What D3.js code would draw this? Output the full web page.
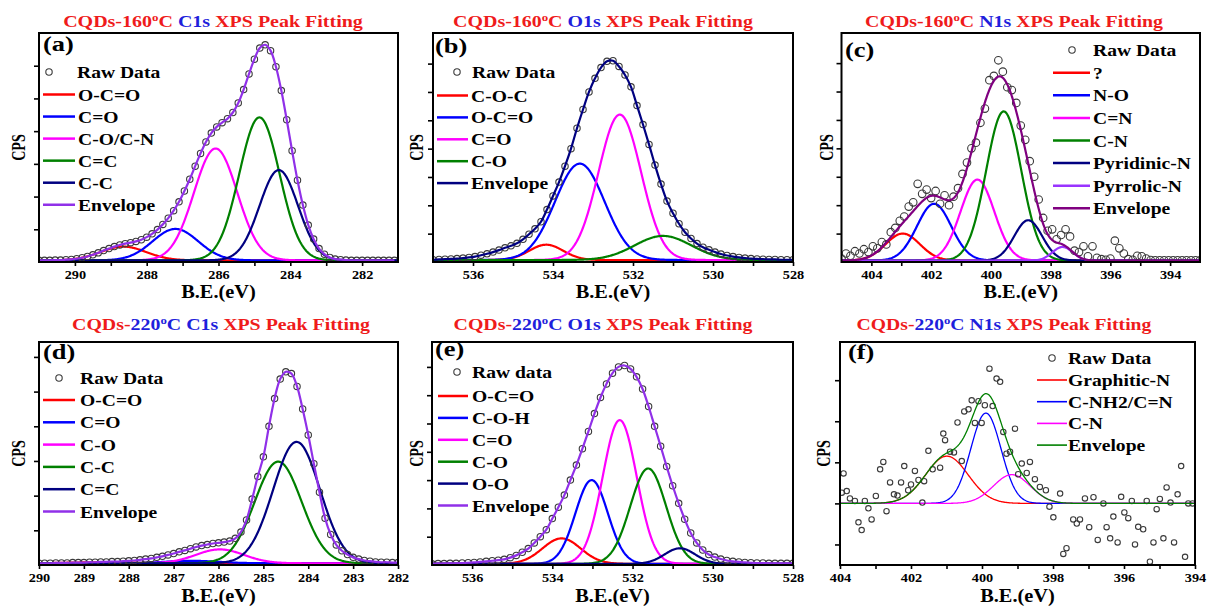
<!DOCTYPE html>
<html>
<head>
<meta charset="utf-8">
<script src="https://cdn.jsdelivr.net/npm/d3@7"></script>
<style>
  body { margin: 0; background: #fff; }
  text { font-family: "Liberation Serif", "Times New Roman", "DejaVu Serif", serif; font-weight: bold; white-space: pre; }
</style>
</head>
<body>
<svg id="fig" width="1208" height="610"></svg>
<script>
// ---------- colours ----------
const RED = "#ff0000", BLUE = "#0000ff", MAG = "#ff00ff", GRN = "#008000",
      NAVY = "#000080", PURP = "#9030e8", PLUM = "#800080", VIOL = "#9933ff";
const TRED = "#ef1b1b", TBLUE = "#1f1fdc";

// ---------- (a) CQDs-160 C1s ----------
const aNames   = ["O-C=O", "C=O", "C-O/C-N", "C=C", "C-C"];
const aColors  = [RED, BLUE, MAG, GRN, NAVY];
const aCenters = [288.65, 287.2, 286.08, 284.86, 284.32];
const aHeights = [0.42, 0.96, 3.42, 4.37, 2.76];
const aFwhm    = [1.5, 1.5, 1.42, 1.32, 1.26];
const aBase = 0.05;
const aRawStart = 291.0, aRawStep = -0.15;
const aRaw = [.05,.05,.05,.06,.06,.07,.08,.10,.13,.17,.22,.28,.35,.41,.47,.52,.56,.59,.63,.68,
  .76,.86,.99,1.15,1.34,1.57,1.84,2.17,2.53,2.93,3.32,3.67,3.94,4.13,4.26,4.38,4.57,4.86,5.27,5.75,
  6.20,6.54,6.64,6.46,5.97,5.24,4.35,3.40,2.50,1.74,1.13,.70,.41,.24,.14,.09,.07,.06,.05,.05,
  .05,.05,.05,.05,.05,.05,.05];

// ---------- (b) CQDs-160 O1s ----------
const bNames   = ["C-O-C", "O-C=O", "C=O", "C-O"];
const bColors  = [RED, BLUE, MAG, GRN];
const bCenters = [534.17, 533.33, 532.33, 531.25];
const bHeights = [0.54, 3.4, 5.13, 0.85];
const bFwhm    = [1.0, 1.46, 1.25, 1.67];
const bBase = 0.07;
const bRawStart = 537.0, bRawStep = -0.15;
const bRaw = [.08,.09,.10,.11,.12,.14,.16,.19,.24,.29,.35,.42,.50,.57,.66,.80,.98,1.17,1.42,1.85,
  2.33,2.82,3.38,4.00,4.72,5.38,6.00,6.48,6.86,7.08,7.10,6.90,6.60,6.18,5.52,4.85,4.15,3.42,2.75,2.15,
  1.72,1.35,1.05,.83,.65,.52,.43,.35,.28,.23,.19,.16,.14,.12,.11,.10,.09,.09,.08,.08,.08];

// ---------- (c) CQDs-160 N1s ----------
const cNames   = ["?", "N-O", "C=N", "C-N", "Pyridinic-N", "Pyrrolic-N"];
const cColors  = [RED, BLUE, MAG, GRN, NAVY, VIOL];
const cCenters = [402.95, 401.9, 400.45, 399.57, 398.75, 397.6];
const cHeights = [0.95, 2.0, 2.85, 5.25, 1.42, 0.48];
const cFwhm    = [1.35, 1.35, 1.33, 1.38, 1.1, 0.8];
const cBase = 0.05;
const cRawStart = 405.0, cRawStep = -0.15;
const cRaw = [.12,.30,.22,.38,.30,.45,.35,.55,.48,.70,.62,1.05,1.20,1.45,1.60,1.95,2.10,2.75,2.40,2.55,
  2.25,2.50,2.05,2.35,2.00,2.30,2.60,3.10,3.50,4.00,4.20,4.90,5.40,6.40,6.55,7.10,6.70,6.15,6.05,5.60,
  4.80,4.30,3.55,3.00,2.20,1.55,1.10,1.15,.80,.95,1.15,.90,.40,.35,.55,.20,.55,.15,.10,.08,
  .12,.75,.48,.30,.10,.08,.22,.20,.12,.07,.06,.06,.06,.06,.06,.06,.06,.06,.06,.06,.06];

// ---------- (d) CQDs-220 C1s ----------
const dNames   = ["O-C=O", "C=O", "C-O", "C-C", "C=C"];
const dColors  = [RED, BLUE, MAG, GRN, NAVY];
const dCenters = [288.6, 286.6, 285.97, 284.67, 284.26];
const dHeights = [0.03, 0.07, 0.40, 2.93, 3.50];
const dFwhm    = [1.6, 1.4, 1.26, 1.23, 1.23];
const dBase = 0.05;
const dRawStart = 290.0, dRawStep = -0.125;
const dRaw = [.05,.05,.05,.06,.06,.06,.07,.07,.07,.08,.08,.09,.09,.10,.10,.11,.12,.13,.15,.17,
  .19,.22,.25,.29,.33,.38,.42,.47,.52,.56,.59,.62,.64,.66,.69,.77,.95,1.30,1.90,2.55,
  3.12,4.00,4.80,5.36,5.57,5.52,5.15,4.50,3.75,2.92,2.10,1.35,.88,.58,.41,.30,.22,.17,.13,.11,
  .09,.08,.08,.07,.07];

// ---------- (e) CQDs-220 O1s ----------
const eNames   = ["O-C=O", "C-O-H", "C=O", "C-O", "O-O"];
const eColors  = [RED, BLUE, MAG, GRN, NAVY];
const eCenters = [533.77, 533.02, 532.32, 531.61, 530.82];
const eHeights = [0.90, 2.96, 5.08, 3.37, 0.55];
const eFwhm    = [1.12, 0.95, 1.0, 1.05, 0.9];
const eBase = 0.04;
const eRawStart = 537.0, eRawStep = -0.15;
const eRaw = [.04,.05,.05,.06,.06,.07,.08,.09,.11,.13,.15,.17,.20,.26,.34,.45,.58,.78,1.00,1.25,
  1.64,2.04,2.47,3.00,3.53,4.11,4.72,5.35,5.92,6.40,6.78,7.00,7.05,6.93,6.65,6.22,5.60,4.90,4.20,3.48,
  2.80,2.18,1.62,1.13,.78,.53,.37,.28,.21,.16,.13,.11,.09,.08,.07,.07,.06,.06,.06,.06,.06];

// ---------- (f) CQDs-220 N1s ----------
const fNames   = ["Graphitic-N", "C-NH2/C=N", "C-N"];
const fColors  = [RED, BLUE, MAG];
const fCenters = [400.99, 399.89, 399.16];
const fHeights = [1.15, 2.2, 0.7];
const fFwhm    = [1.41, 1.0, 1.22];
const fBase = 0;
const fRawX = [403.95,403.9,403.81,403.72,403.58,403.48,403.39,403.3,403.2,403.11,402.99,402.87,402.78,402.69,
  402.59,402.48,402.38,402.28,402.19,402.08,402.0,401.89,401.79,401.68,401.63,401.51,401.39,401.18,401.09,
  401.04,400.9,400.79,400.69,400.57,400.5,400.38,400.29,400.2,400.1,400.01,399.92,399.79,399.7,399.59,
  399.49,399.4,399.31,399.21,399.07,398.98,398.88,398.74,398.65,398.51,398.37,398.2,398.1,397.99,397.8,
  397.71,397.62,397.43,397.33,397.24,397.1,396.98,396.86,396.74,396.58,396.49,396.39,396.3,396.18,396.08,
  395.99,395.88,395.78,395.69,395.6,395.46,395.36,395.27,395.17,395.08,394.99,394.89,394.8,394.69,394.59,
  394.49,394.39,394.28,394.19,394.07];
const fRawY = [.26,.73,.30,.12,.06,-.46,-.65,.06,-.12,-.39,.18,.83,1.01,-.19,.51,.22,.19,.51,.91,.32,
  .46,.79,.57,.02,.54,1.28,.83,.87,1.70,1.54,1.26,1.24,1.97,1.03,2.24,2.29,2.51,1.96,2.49,1.96,
  2.39,3.28,2.37,3.04,2.96,1.74,1.21,1.26,1.82,.71,.97,.74,1.01,.59,.40,.32,-.08,-.34,.24,-1.23,
  -1.09,-.39,-.49,-.39,.12,-.58,.15,-.89,0,-.58,-.85,-.32,-.95,.16,-.22,-.36,.06,-1.0,-.57,-.63,
  .06,-1.42,-.95,-.14,.11,-.85,.39,.02,-.95,.22,.91,-1.30,0,0];

// ---------- helpers ----------
const svg = d3.select("#fig");
const grid = (start, step, n) => d3.range(n).map(i => +(start + step * i).toFixed(4));
const gaussian = (x, c, h, w) => h * Math.exp(-4 * Math.LN2 * (x - c) * (x - c) / (w * w));

function titleParts(temp, line) {
  if (temp === "160") {
    return [{t: "CQDs-160", c: TRED}, {t: "o", c: TRED, sup: true}, {t: "C ", c: TRED, down: true},
            {t: line + " ", c: TBLUE}, {t: "XPS Peak Fitting", c: TRED}];
  }
  return [{t: "CQDs-", c: TRED}, {t: "220", c: TBLUE}, {t: "o", c: TBLUE, sup: true},
          {t: "C " + line + " ", c: TBLUE, down: true}, {t: "XPS Peak Fitting", c: TRED}];
}

function drawTitle(parts, cx, y, width) {
  const t = svg.append("text").attr("font-size", 17).attr("text-anchor", "middle");
  parts.forEach(p => {
    const ts = t.append("tspan").attr("fill", p.c).text(p.t);
    if (p.sup) ts.attr("font-size", 11).attr("dy", -6);
    if (p.down) ts.attr("dy", 6);
  });
  const w = t.node().getComputedTextLength();
  t.attr("transform", `translate(${cx},${y}) scale(${width / w},1)`);
}

function stretched(parent, x, y, str, size, sx, anchor, rotate) {
  return parent.append("text")
    .attr("transform", `translate(${x},${y})${rotate ? " rotate(" + rotate + ")" : ""} scale(${sx},1)`)
    .attr("text-anchor", anchor || "start")
    .attr("font-size", size)
    .attr("fill", "#000")
    .text(str);
}

const panels = [
  { key: "a", box: {l: 39, r: 398, t: 33, b: 262}, xDom: [291, 281], yDom: [0, 7],
    xTicks: d3.range(282, 291), every: 2, yTicks: d3.range(1, 7),
    title: titleParts("160", "C1s"), tx: 213, ty: 27, tw: 300, letter: "(a)", lp: [43, 51],
    names: aNames, colors: aColors, centers: aCenters, heights: aHeights, fwhm: aFwhm, base: aBase,
    rawX: grid(aRawStart, aRawStep, aRaw.length), rawY: aRaw, r: 3.2, env: PURP, envFromRaw: true, lw: 2.2,
    leg: {label: "Raw Data", circle: [49, 72], rawTx: 77, line: [43, 75], tx: 78, y0: 94.5, dy: 22.05},
    cpsX: 25, beY: 298 },
  { key: "b", box: {l: 433, r: 793, t: 33, b: 262}, xDom: [537, 528], yDom: [0, 8.08],
    xTicks: d3.range(528, 537), every: 2, yTicks: d3.range(1, 8),
    title: titleParts("160", "O1s"), tx: 603, ty: 27, tw: 300, letter: "(b)", lp: [435, 53],
    names: bNames, colors: bColors, centers: bCenters, heights: bHeights, fwhm: bFwhm, base: bBase,
    rawX: grid(bRawStart, bRawStep, bRaw.length), rawY: bRaw, r: 3.2, env: NAVY, envFromRaw: true, lw: 2.2,
    leg: {label: "Raw Data", circle: [457, 72], rawTx: 472, line: [437, 468], tx: 471, y0: 95.5, dy: 21.9},
    cpsX: 423, beY: 298 },
  { key: "c", box: {l: 841.5, r: 1200, t: 33, b: 262}, xDom: [405, 393], yDom: [0, 8.06],
    xTicks: d3.range(394, 405), every: 2, yTicks: d3.range(1, 8),
    title: titleParts("160", "N1s"), tx: 1014, ty: 27, tw: 298, letter: "(c)", lp: [845, 57],
    names: cNames, colors: cColors, centers: cCenters, heights: cHeights, fwhm: cFwhm, base: cBase,
    rawX: grid(cRawStart, cRawStep, cRaw.length), rawY: cRaw, r: 3.8, env: PLUM, envFromRaw: false, lw: 2.2,
    leg: {label: "Raw Data", circle: [1072, 50], rawTx: 1093, line: [1053, 1090], tx: 1093, y0: 72.7, dy: 22.6},
    cpsX: 833, beY: 298 },
  { key: "d", box: {l: 39, r: 398, t: 342, b: 565}, xDom: [290, 282], yDom: [0, 6.43],
    xTicks: d3.range(282, 291), every: 1, yTicks: d3.range(1, 7),
    title: titleParts("220", "C1s"), tx: 221, ty: 330, tw: 298, letter: "(d)", lp: [43, 359],
    names: dNames, colors: dColors, centers: dCenters, heights: dHeights, fwhm: dFwhm, base: dBase,
    rawX: grid(dRawStart, dRawStep, dRaw.length), rawY: dRaw, r: 3.2, env: PURP, envFromRaw: true, lw: 2.2,
    leg: {label: "Raw Data", circle: [59, 378], rawTx: 80, line: [43, 75], tx: 80, y0: 400, dy: 22.3},
    cpsX: 25, beY: 602 },
  { key: "e", box: {l: 432, r: 793, t: 342, b: 565}, xDom: [537, 528], yDom: [0, 7.88],
    xTicks: d3.range(528, 537), every: 2, yTicks: d3.range(1, 8),
    title: titleParts("220", "O1s"), tx: 603, ty: 330, tw: 299, letter: "(e)", lp: [435, 356],
    names: eNames, colors: eColors, centers: eCenters, heights: eHeights, fwhm: eFwhm, base: eBase,
    rawX: grid(eRawStart, eRawStep, eRaw.length), rawY: eRaw, r: 3.2, env: PURP, envFromRaw: true, lw: 2.2,
    leg: {label: "Raw data", circle: [457, 372], rawTx: 472, line: [438, 468], tx: 472, y0: 396, dy: 21.9},
    cpsX: 423, beY: 602 },
  { key: "f", box: {l: 840, r: 1195, t: 342, b: 565}, xDom: [404, 394], yDom: [-1.5, 3.93],
    xTicks: d3.range(394, 405), every: 2, yTicks: [-1, 0, 1, 2, 3],
    title: titleParts("220", "N1s"), tx: 1004, ty: 330, tw: 295, letter: "(f)", lp: [848, 359],
    names: fNames, colors: fColors, centers: fCenters, heights: fHeights, fwhm: fFwhm, base: fBase,
    rawX: fRawX, rawY: fRawY, r: 2.7, env: GRN, envFromRaw: false, lw: 1.3,
    leg: {label: "Raw Data", circle: [1052, 358], rawTx: 1068, line: [1037, 1067], tx: 1068, y0: 380, dy: 21.7},
    cpsX: 830, beY: 602 }
];

panels.forEach(p => {
  const {box} = p;
  const x = d3.scaleLinear().domain(p.xDom).range([box.l, box.r]);
  const y = d3.scaleLinear().domain(p.yDom).range([box.b, box.t]);
  const g = svg.append("g");

  svg.append("clipPath").attr("id", "clip-" + p.key)
    .append("rect").attr("x", box.l).attr("y", box.t)
    .attr("width", box.r - box.l).attr("height", box.b - box.t);

  // fitted components
  const N = 500;
  const xs = d3.range(N + 1).map(i => p.xDom[0] + (p.xDom[1] - p.xDom[0]) * i / N);
  const line = d3.line().x(d => x(d[0])).y(d => y(d[1]));
  const plot = g.append("g").attr("clip-path", `url(#clip-${p.key})`);

  p.names.forEach((nm, i) => {
    const pts = xs.map(v => [v, p.base + gaussian(v, p.centers[i], p.heights[i], p.fwhm[i])]);
    plot.append("path").attr("d", line(pts)).attr("fill", "none")
      .attr("stroke", p.colors[i]).attr("stroke-width", p.lw);
  });

  // raw data points
  const raw = p.rawX.map((v, i) => [v, p.rawY[i]]);
  plot.selectAll("circle.raw").data(raw).join("circle").attr("class", "raw")
    .attr("cx", d => x(d[0])).attr("cy", d => y(d[1])).attr("r", p.r)
    .attr("fill", "none").attr("stroke", "#3a3a3a").attr("stroke-width", 1.1);

  // envelope
  if (p.envFromRaw) {
    plot.append("path").attr("d", d3.line().curve(d3.curveCatmullRom.alpha(0.5))
        .x(d => x(d[0])).y(d => y(d[1]))(raw))
      .attr("fill", "none").attr("stroke", p.env).attr("stroke-width", p.lw);
  } else {
    const envPts = xs.map(v => [v, p.base + d3.sum(p.names, (nm, i) => gaussian(v, p.centers[i], p.heights[i], p.fwhm[i]))]);
    plot.append("path").attr("d", line(envPts)).attr("fill", "none")
      .attr("stroke", p.env).attr("stroke-width", p.lw);
  }

  // axes
  const gx = g.append("g").attr("transform", `translate(0,${box.b})`)
    .call(d3.axisBottom(x).tickValues(p.xTicks).tickSize(4)
      .tickFormat(d => (Math.round(d) % p.every === 0) ? d : ""));
  gx.attr("font-family", null).attr("font-size", null);
  gx.select(".domain").remove();
  gx.selectAll(".tick line").attr("stroke", "#000").attr("stroke-width", 1.6);
  gx.selectAll(".tick text").attr("y", null).attr("dy", null)
    .attr("transform", "translate(0,17) scale(1.1,1)")
    .attr("font-size", 13).attr("fill", "#000");

  const gy = g.append("g").attr("transform", `translate(${box.l},0)`)
    .call(d3.axisLeft(y).tickValues(p.yTicks).tickSize(5).tickFormat(""));
  gy.select(".domain").remove();
  gy.selectAll(".tick line").attr("stroke", "#000").attr("stroke-width", 1.6);

  g.append("rect").attr("x", box.l).attr("y", box.t)
    .attr("width", box.r - box.l).attr("height", box.b - box.t)
    .attr("fill", "none").attr("stroke", "#000").attr("stroke-width", 2);

  // titles and axis labels
  drawTitle(p.title, p.tx, p.ty, p.tw);
  stretched(g, (box.l + box.r) / 2, p.beY, "B.E.(eV)", 18.5, 1.1, "middle");
  stretched(g, p.cpsX, (box.t + box.b) / 2, "CPS", 19, 0.74, "middle", -90);
  stretched(g, p.lp[0], p.lp[1], p.letter, 22, 1.2, "start");

  // legend
  const L = p.leg;
  g.append("circle").attr("cx", L.circle[0]).attr("cy", L.circle[1]).attr("r", 3.2)
    .attr("fill", "none").attr("stroke", "#3a3a3a").attr("stroke-width", 1.1);
  stretched(g, L.rawTx, L.circle[1] + 6, L.label, 17.5, 1.12, "start");
  const entries = p.names.map((nm, i) => ({nm, c: p.colors[i]})).concat([{nm: "Envelope", c: p.env}]);
  entries.forEach((e, i) => {
    const yy = L.y0 + i * L.dy;
    g.append("line").attr("x1", L.line[0]).attr("x2", L.line[1]).attr("y1", yy).attr("y2", yy)
      .attr("stroke", e.c).attr("stroke-width", p.lw + 0.3);
    stretched(g, L.tx, yy + 6, e.nm, 17.5, 1.12, "start");
  });
});
</script>
</body>
</html>
